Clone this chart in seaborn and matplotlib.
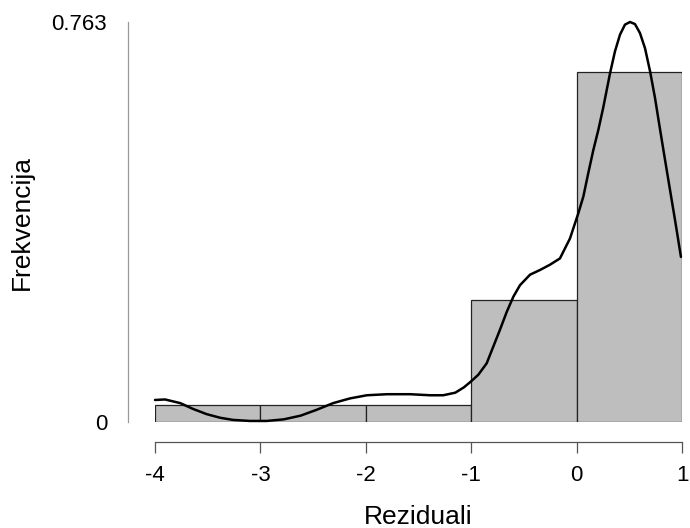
import matplotlib
matplotlib.use("Agg")
import matplotlib.pyplot as plt
import seaborn as sns

# Histogram data (relative frequency per bin)
bin_edges = [-4, -3, -2, -1, 0, 1]
bin_heights = [0.0333, 0.0333, 0.0333, 0.2333, 0.6667]

# Density curve
curve_x = [-4.0, -3.905, -3.76, -3.64, -3.51, -3.38, -3.26, -3.10, -2.94, -2.78,
           -2.62, -2.47, -2.31, -2.15, -1.99, -1.80, -1.58, -1.39, -1.265, -1.15,
           -1.07, -1.01, -0.933, -0.853, -0.79, -0.727, -0.663, -0.60, -0.537, -0.442,
           -0.347, -0.253, -0.158, -0.063, 0.016, 0.064, 0.111, 0.159, 0.206, 0.253,
           0.317, 0.364, 0.412, 0.459, 0.507, 0.554, 0.601, 0.649, 0.697, 0.744,
           0.791, 0.839, 0.886, 0.934, 0.99]
curve_y = [0.042, 0.043, 0.036, 0.025, 0.015, 0.008, 0.004, 0.002, 0.002, 0.005,
           0.012, 0.023, 0.036, 0.045, 0.051, 0.053, 0.053, 0.051, 0.051, 0.056,
           0.066, 0.076, 0.090, 0.112, 0.144, 0.176, 0.210, 0.239, 0.261, 0.281,
           0.290, 0.300, 0.312, 0.350, 0.398, 0.430, 0.475, 0.519, 0.557, 0.600,
           0.665, 0.707, 0.739, 0.758, 0.763, 0.759, 0.742, 0.713, 0.669, 0.618,
           0.559, 0.500, 0.443, 0.385, 0.315]

x_ticks = [-4, -3, -2, -1, 0, 1]
y_ticks = [0, 0.763]
y_tick_labels = ["0", "0.763"]

sns.set_style("white")
plt.rcParams['font.family'] = ['Liberation Sans', 'DejaVu Sans']
plt.rcParams['text.color'] = 'black'
plt.rcParams['axes.labelcolor'] = 'black'
plt.rcParams['xtick.color'] = 'black'
plt.rcParams['ytick.color'] = 'black'

fig = plt.figure(figsize=(6.9, 5.28), dpi=100)
ax = fig.add_axes([155/690, (528-422)/528, (682-155)/690, 400/528])

centers = [(a + b) / 2 for a, b in zip(bin_edges[:-1], bin_edges[1:])]
sns.histplot(x=centers, weights=bin_heights, bins=bin_edges, stat="count",
             color="#BEBEBE", alpha=1, edgecolor="#222222", linewidth=0.9, ax=ax)
sns.lineplot(x=curve_x, y=curve_y, color="black", linewidth=1.8, ax=ax,
             clip_on=False, sort=False)
for ln in ax.lines:
    ln.set_solid_joinstyle("round")

ax.set_xlim(-4, 1)
ax.set_ylim(0, 0.763)

for s in ["top", "right"]:
    ax.spines[s].set_visible(False)
ax.spines["left"].set_position(("outward", 19.4))
ax.spines["left"].set_bounds(0, 0.763)
ax.spines["left"].set_color("#999999")
ax.spines["left"].set_linewidth(0.9)
ax.spines["bottom"].set_position(("outward", 14.4))
ax.spines["bottom"].set_bounds(-4, 1)
ax.spines["bottom"].set_color("#555555")
ax.spines["bottom"].set_linewidth(0.9)

ax.set_xticks(x_ticks)
ax.set_xticklabels([str(t) for t in x_ticks])
ax.set_yticks(y_ticks)
ax.set_yticklabels(y_tick_labels)
ax.tick_params(axis="x", length=8, width=0.9, color="#555555", pad=8.5,
               labelsize=16, bottom=True, labelcolor="black")
ax.tick_params(axis="y", length=0, pad=15, labelsize=16, left=True,
               labelcolor="black")

ax.set_xlabel("Reziduali", fontsize=19, labelpad=14, color="black")
ax.set_ylabel("Frekvencija", fontsize=19, labelpad=12.5, color="black")

fig.savefig("out.png", dpi=100)
